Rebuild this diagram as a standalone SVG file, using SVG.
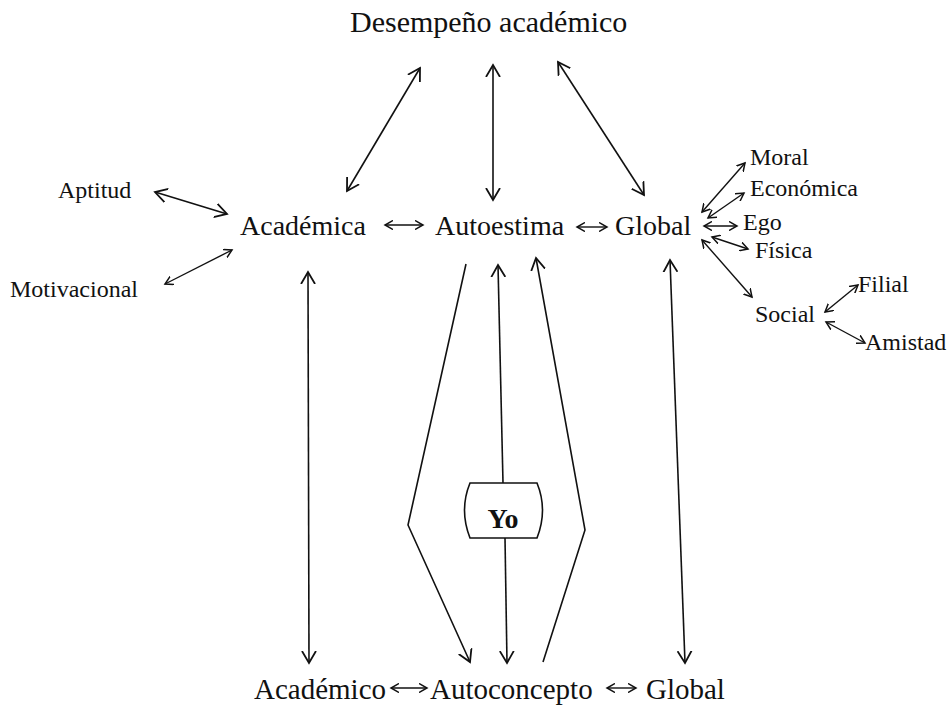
<svg xmlns="http://www.w3.org/2000/svg" width="952" height="707" viewBox="0 0 952 707">
<style>
text{font-family:"Liberation Serif","Times New Roman",serif;fill:#111}
.big{font-size:28px}
.bot{font-size:29px}
.top{font-size:30px}
.sm{font-size:24px}
.yo{font-size:28px;font-weight:bold}
.c{fill:none;stroke:#111;stroke-width:1.6}
.cs{fill:none;stroke:#111;stroke-width:1.4}
</style>
<defs>
<marker id="ah" markerUnits="userSpaceOnUse" markerWidth="16" markerHeight="16" refX="12" refY="7" orient="auto-start-reverse" viewBox="0 0 16 14">
<path d="M0,0 L12,7 L0,14" fill="none" stroke="#111" stroke-width="1.8"/>
</marker>
<marker id="as" markerUnits="userSpaceOnUse" markerWidth="10" markerHeight="10" refX="8" refY="4.5" orient="auto-start-reverse" viewBox="0 0 10 9">
<path d="M0,0 L8,4.5 L0,9" fill="none" stroke="#111" stroke-width="1.5"/>
</marker>
</defs>
<rect width="952" height="707" fill="#fff"/>
<g id="connectors">
<line class="c" x1="347" y1="191" x2="420" y2="68" marker-start="url(#ah)" marker-end="url(#ah)"/>
<line class="c" x1="493" y1="200" x2="493" y2="65" marker-start="url(#ah)" marker-end="url(#ah)"/>
<line class="c" x1="644" y1="195" x2="558" y2="62" marker-start="url(#ah)" marker-end="url(#ah)"/>
<line class="c" x1="155" y1="192" x2="227" y2="214" marker-start="url(#ah)" marker-end="url(#ah)"/>
<line class="cs" x1="165" y1="284" x2="232" y2="250" marker-start="url(#as)" marker-end="url(#as)"/>
<line class="cs" x1="385" y1="225" x2="423" y2="225" marker-start="url(#as)" marker-end="url(#as)"/>
<line class="cs" x1="577" y1="227" x2="607" y2="227" marker-start="url(#as)" marker-end="url(#as)"/>
<line class="cs" x1="702" y1="212" x2="745" y2="163" marker-start="url(#as)" marker-end="url(#as)"/>
<line class="cs" x1="708" y1="218" x2="744" y2="193" marker-start="url(#as)" marker-end="url(#as)"/>
<line class="cs" x1="704" y1="226" x2="737" y2="226" marker-start="url(#as)" marker-end="url(#as)"/>
<line class="cs" x1="712" y1="237" x2="748" y2="249" marker-start="url(#as)" marker-end="url(#as)"/>
<line class="cs" x1="702" y1="240" x2="752" y2="297" marker-start="url(#as)" marker-end="url(#as)"/>
<line class="cs" x1="825" y1="312" x2="858" y2="285" marker-start="url(#as)" marker-end="url(#as)"/>
<line class="cs" x1="826" y1="322" x2="865" y2="343" marker-start="url(#as)" marker-end="url(#as)"/>
<line class="c" x1="308" y1="272" x2="309" y2="663" marker-start="url(#ah)" marker-end="url(#ah)"/>
<line class="c" x1="670" y1="260" x2="685" y2="663" marker-start="url(#ah)" marker-end="url(#ah)"/>
<line class="c" x1="503" y1="483" x2="498" y2="265" marker-end="url(#ah)"/>
<line class="c" x1="505" y1="538" x2="507" y2="663" marker-end="url(#ah)"/>
<polyline class="c" points="466,264 408,525 470,662" marker-end="url(#ah)"/>
<polyline class="c" points="543,662 585,530 536,258" marker-end="url(#ah)"/>
<line class="cs" x1="391" y1="688" x2="427" y2="688" marker-start="url(#as)" marker-end="url(#as)"/>
<line class="cs" x1="607" y1="688" x2="636" y2="688" marker-start="url(#as)" marker-end="url(#as)"/>
</g>
<g id="desempeno"><text class="top" x="350" y="32">Desempeño académico</text></g>
<g id="academica"><text class="big" x="240" y="235">Académica</text></g>
<g id="autoestima"><text class="big" x="435" y="235">Autoestima</text></g>
<g id="global-top"><text class="big" x="615" y="235">Global</text></g>
<g id="aptitud"><text class="sm" x="58" y="198">Aptitud</text></g>
<g id="motivacional"><text class="sm" x="10" y="297">Motivacional</text></g>
<g id="moral"><text class="sm" x="750" y="165">Moral</text></g>
<g id="economica"><text class="sm" x="750" y="196">Económica</text></g>
<g id="ego"><text class="sm" x="743" y="230">Ego</text></g>
<g id="fisica"><text class="sm" x="755" y="258">Física</text></g>
<g id="social"><text class="sm" x="755" y="322">Social</text></g>
<g id="filial"><text class="sm" x="858" y="292">Filial</text></g>
<g id="amistad"><text class="sm" x="865" y="350">Amistad</text></g>
<g id="yo">
<path class="c" d="M470,483 L537,483 Q548,510 537,538 L470,538 Q459,510 470,483 Z" fill="#fff"/>
<text class="yo" x="503" y="528" text-anchor="middle">Yo</text>
</g>
<g id="academico"><text class="bot" x="254" y="699">Académico</text></g>
<g id="autoconcepto"><text class="bot" x="430" y="699">Autoconcepto</text></g>
<g id="global-bottom"><text class="bot" x="646" y="699">Global</text></g>
</svg>
